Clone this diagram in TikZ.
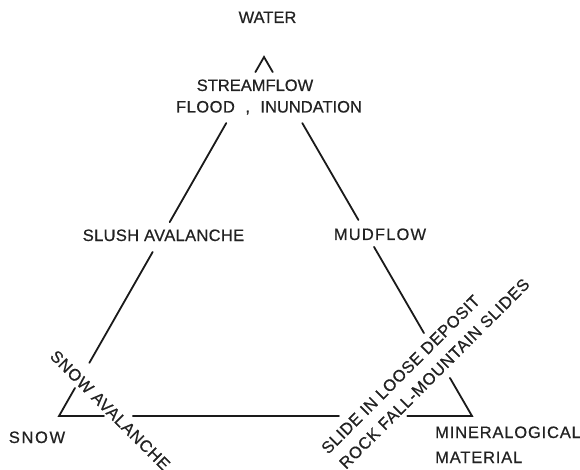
\documentclass[tikz,border=0pt]{standalone}
\usepackage{fontspec}
\setmainfont{Liberation Sans}[FakeBold=0.5]
\usetikzlibrary{calc}
\definecolor{linecol}{HTML}{1A1A1A}
\definecolor{txtcol}{HTML}{222222}
\newcommand\lsp[2]{{\addfontfeatures{LetterSpace=#1}#2}}
\begin{document}
\begin{tikzpicture}[x=1pt,y=-1pt,
  edge/.style={line width=1.8pt, draw=linecol, line cap=round},
  lbl/.style={text=txtcol, inner sep=0pt, font=\fontsize{16.5}{20}\selectfont}]
\useasboundingbox (0,0) rectangle (580,470);
\fill[white] (0,0) rectangle (580,470);
% triangle corners
\coordinate (A) at (264,57);
\coordinate (B) at (59,416);
\coordinate (C) at (472,416);
% apex caret
\draw[edge] ($(A)!0.042!(B)$) -- (A) -- ($(A)!0.042!(C)$);
% left edge
\draw[edge] ($(A)!0.184!(B)$) -- ($(A)!0.46!(B)$);
\draw[edge] ($(A)!0.543!(B)$) -- ($(A)!0.852!(B)$);
\draw[edge] ($(A)!0.922!(B)$) -- (B) -- ($(B)!0.109!(C)$);
% bottom edge
\draw[edge] ($(B)!0.179!(C)$) -- ($(B)!0.678!(C)$);
\draw[edge] ($(B)!0.843!(C)$) -- (C) -- ($(A)!0.894!(C)$);
% right edge
\draw[edge] ($(A)!0.184!(C)$) -- ($(A)!0.454!(C)$);
\draw[edge] ($(A)!0.529!(C)$) -- ($(A)!0.769!(C)$);
% labels
\node[lbl, anchor=base] (water) at (267.5,23) {WATER};
\node[lbl, anchor=base] (stream) at (255,91) {STREAMFLOW};
\node[lbl, anchor=base] (flood) at (269,112.5) {\lsp{3}{FLOOD}\hspace{10.5pt},\hspace{10.5pt}INUNDATION};
\node[lbl, anchor=base] (slush) at (163.5,241) {\lsp{2}{SLUSH AVALANCHE}};
\node[lbl, anchor=base] (mud) at (380,240) {\lsp{7}{MUDFLOW}};
\node[lbl, anchor=base] (snow) at (37,443) {\lsp{10}{SNOW}};
\node[lbl, anchor=base west] (mineral) at (435,438) {\lsp{5}{MINERALOGICAL}};
\node[lbl, anchor=base west] (material) at (435,463) {\lsp{5}{MATERIAL}};
\node[lbl, rotate=-45, anchor=west] (snowav) at (53,353) {\lsp{4}{SNOW AVALANCHE}};
\node[lbl, rotate=45, anchor=west] (slide) at (324,451) {\lsp{3}{SLIDE IN LOOSE DEPOSIT}};
\node[lbl, rotate=45, anchor=west] (rock) at (342,466) {\lsp{4}{ROCK FALL-MOUNTAIN SLIDES}};
\end{tikzpicture}
\end{document}
